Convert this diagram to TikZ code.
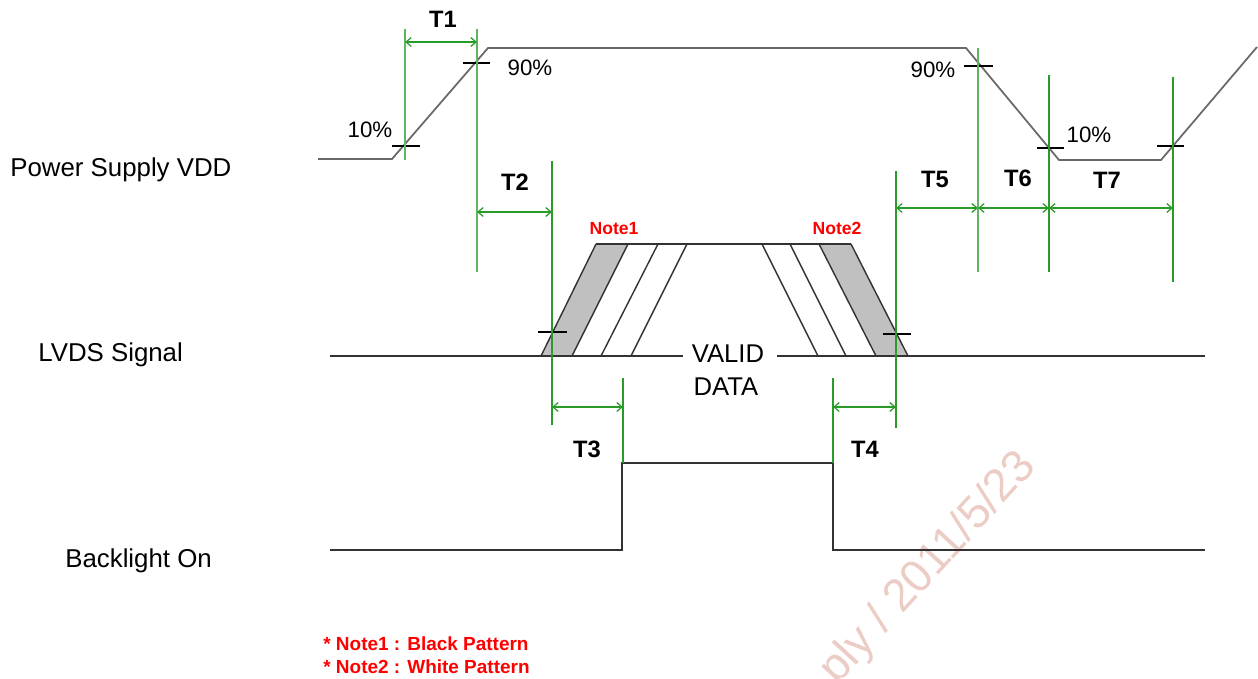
\documentclass[tikz,border=0pt]{standalone}
\usepackage{fontspec}
\setmainfont{Liberation Sans}
\usepackage{xcolor}
\usetikzlibrary{arrows.meta}
\definecolor{tgreen}{RGB}{40,155,40}
\definecolor{lgreen}{RGB}{95,180,95}
\definecolor{wgray}{RGB}{105,105,105}
\definecolor{dgray}{RGB}{50,50,50}
\definecolor{pgray}{RGB}{192,192,192}
\definecolor{nred}{RGB}{255,0,0}
\definecolor{wmark}{RGB}{236,205,198}

\begin{document}
\begin{tikzpicture}[x=0.02cm, y=-0.02cm,
    every node/.style={inner sep=0pt},
    signame/.style={anchor=base west, font=\fontsize{14.7}{16}\selectfont},
    tlabel/.style={anchor=base, font=\fontsize{13.5}{15}\selectfont\bfseries},
    pct/.style={anchor=base, font=\fontsize{12.7}{14}\selectfont},
    notelabel/.style={anchor=base, text=nred, font=\fontsize{10}{12}\selectfont\bfseries},
    wave/.style={draw=wgray, line width=1pt},
    sig/.style={draw=dgray, line width=0.8pt},
    guide/.style={draw=tgreen, line width=0.8pt},
    dim/.style={draw=tgreen, line width=0.7pt, {Straight Barb[length=3pt,width=5pt]}-{Straight Barb[length=3pt,width=5pt]}},
    tickmark/.style={draw=black, line width=0.6pt}]
  \useasboundingbox (0,0) rectangle (1258,679);

  % watermark
  \node[anchor=mid east, rotate=47.5, text=wmark, font=\fontsize{26}{28}\selectfont] (wm) at (1034,464) {ply / 2011/5/23};

  % signal names
  \node[signame] (vdd) at (10,176) {Power Supply VDD};
  \node[signame] (lvds) at (38,361) {LVDS Signal};
  \node[signame] (bl) at (65,567) {Backlight On};

  % power supply waveform
  \draw[wave] (318,159) -- (392,159) -- (488,48) -- (966,48) -- (1059,160) -- (1161,160) -- (1257,47);
  \draw[tickmark] (392,146) -- (420,146);
  \draw[tickmark] (463,63) -- (490,63);
  \draw[tickmark] (964,66) -- (993,66);
  \draw[tickmark] (1037,148) -- (1064,148);
  \draw[tickmark] (1157,146) -- (1184,146);
  \node[pct] (p10a) at (370,137) {10\%};
  \node[pct] (p90a) at (530,76) {90\%};
  \node[pct] (p90b) at (933,78) {90\%};
  \node[pct] (p10b) at (1089,143) {10\%};

  % LVDS signal
  \fill[pgray] (541,356) -- (596,244) -- (628,244) -- (572,356) -- cycle;
  \fill[pgray] (819,244) -- (851,244) -- (908,356) -- (876,356) -- cycle;
  \draw[sig] (330,356) -- (683,356);
  \draw[sig] (777,356) -- (1205,356);
  \draw[sig] (596,244) -- (851,244);
  \foreach \a/\b in {541/596, 572/628, 601/658, 631/687}
    \draw[sig] (\a,356) -- (\b,244);
  \foreach \a/\b in {762/818, 790/846, 819/876, 851/908}
    \draw[sig] (\a,244) -- (\b,356);
  \draw[tickmark] (538,332) -- (567,332);
  \draw[tickmark] (883,334) -- (911,334);
  \node[anchor=base, font=\fontsize{14.6}{16}\selectfont] (valid) at (728,362) {VALID};
  \node[anchor=base, font=\fontsize{14.6}{16}\selectfont] (data) at (726,395) {DATA};
  \node[notelabel] (n1) at (614,235) {Note1};
  \node[notelabel] (n2) at (837,235) {Note2};

  % backlight
  \draw[sig] (330,550) -- (622,550) -- (622,463) -- (833,463) -- (833,550) -- (1205,550);

  % timing guides
  \foreach \x/\ya/\yb/\c [count=\i] in {405/29/160/lgreen, 477/29/272/lgreen, 552/161/425/tgreen,
      623/378/463/tgreen, 833/378/463/tgreen, 896/171/428/tgreen, 978/48/272/lgreen,
      1049/75/272/tgreen, 1173/77/282/tgreen} {
    \coordinate (gt\i) at (\x,\ya);
    \coordinate (gb\i) at (\x,\yb);
    \draw[guide, draw=\c] (gt\i) -- (gb\i);
  }

  % timing arrows
  \coordinate (a1) at (405,42);   \coordinate (b1) at (477,42);
  \coordinate (a2) at (477,212);  \coordinate (b2) at (552,212);
  \coordinate (a3) at (552,407);  \coordinate (b3) at (623,407);
  \coordinate (a4) at (833,407);  \coordinate (b4) at (896,407);
  \coordinate (a5) at (896,208);  \coordinate (b5) at (978,208);
  \coordinate (a6) at (978,208);  \coordinate (b6) at (1049,208);
  \coordinate (a7) at (1049,208); \coordinate (b7) at (1173,208);
  \foreach \i in {1,...,7}
    \draw[dim] (a\i) -- (b\i);

  \node[tlabel] (t1) at (443,28) {T1};
  \node[tlabel] (t2) at (515,191) {T2};
  \node[tlabel] (t3) at (587,457) {T3};
  \node[tlabel] (t4) at (865,457) {T4};
  \node[tlabel] (t5) at (935,188) {T5};
  \node[tlabel] (t6) at (1018,186) {T6};
  \node[tlabel] (t7) at (1107,189) {T7};

  % notes
  \node[anchor=base west, text=nred, font=\fontsize{10.8}{12}\selectfont\bfseries] (note1) at (323,650) {* Note1 : Black Pattern};
  \node[anchor=base west, text=nred, font=\fontsize{10.8}{12}\selectfont\bfseries] (note2) at (323,673) {* Note2 : White Pattern};
\end{tikzpicture}
\end{document}
